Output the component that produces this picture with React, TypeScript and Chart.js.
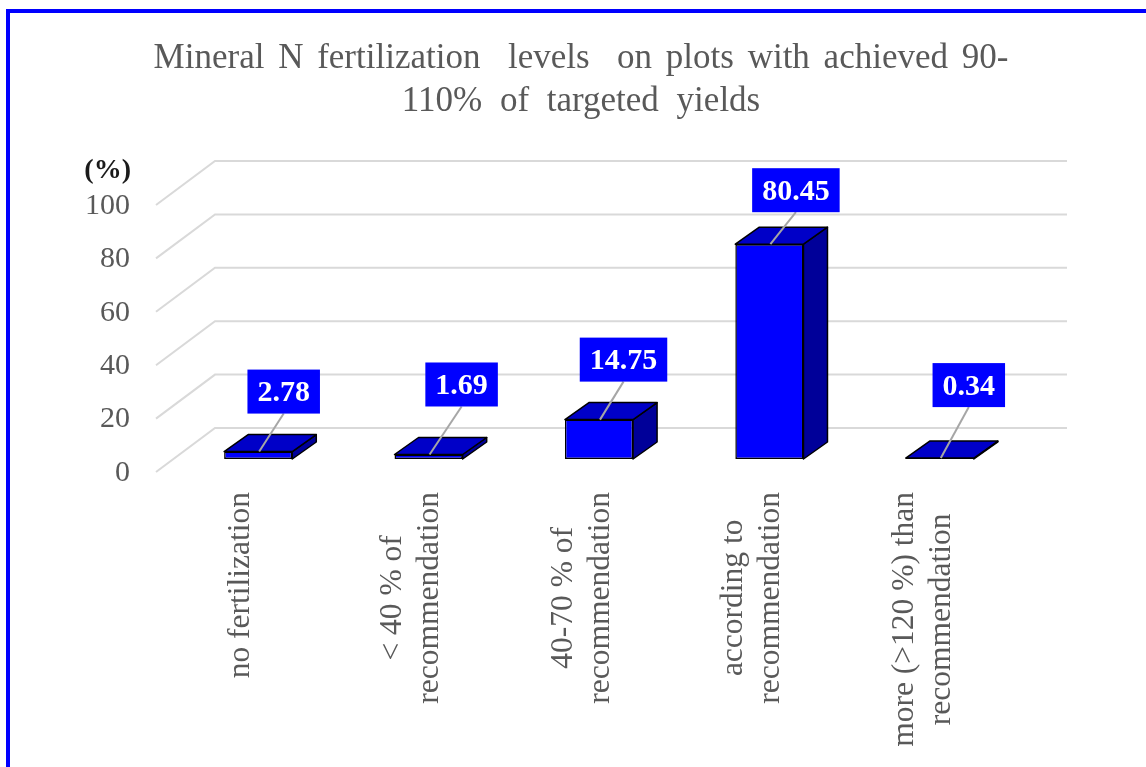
import React, { useEffect, useRef } from 'react';
import { Chart, registerables } from 'chart.js';

Chart.register(...registerables);

const TITLE_LINES = ['Mineral N fertilization  levels  on plots with achieved 90-', '110% of targeted yields'];
const CATEGORIES: string[][] = [
  ['no fertilization'],
  ['< 40 % of', 'recommendation'],
  ['40-70 % of', 'recommendation'],
  ['according to', 'recommendation'],
  ['more (>120 %) than', 'recommendation'],
];
const VALUES = [2.78, 1.69, 14.75, 80.45, 0.34];
const Y_TICKS = [0, 20, 40, 60, 80, 100];
const Y_UNIT = '(%)';

// layout / style constants (not data)
const BACK = { x: 42, y: -31 };
const FRONT = { x: -17, y: 13 };
const DEPTH = { x: 24, y: -17 };
const LABEL_SHIFT = [
  [25.5, -60],
  [33, -70],
  [24.5, -60],
  [26.5, -54],
  [29, -73],
];
const TITLE_WORD_SPACING = [5, 9];
const SERIF = '"Liberation Serif", "Times New Roman", serif';
const TEXT_GREY = '#595959';

const depth3d = {
  id: 'depth3d',
  beforeDraw(chart: any) {
    const { ctx } = chart;
    ctx.save();
    ctx.fillStyle = '#ffffff';
    ctx.fillRect(0, 0, chart.width, chart.height);
    ctx.fillStyle = '#0000FF';
    ctx.fillRect(6, 9, 4, chart.height - 9);
    ctx.fillRect(6, 9, chart.width - 6, 4);

    // title
    ctx.fillStyle = TEXT_GREY;
    ctx.font = `35px ${SERIF}`;
    ctx.textAlign = 'center';
    ctx.textBaseline = 'alphabetic';
    TITLE_LINES.forEach((line, i) => {
      (ctx as any).wordSpacing = `${TITLE_WORD_SPACING[i]}px`;
      ctx.fillText(line, 581, 68 + i * 43);
    });
    (ctx as any).wordSpacing = '0px';
    ctx.restore();
  },
  beforeDatasetsDraw(chart: any) {
    const { ctx } = chart;
    const xs = chart.scales.x;
    const ys = chart.scales.y;
    const L = xs.left;
    const R = xs.right;
    ctx.save();
    ctx.strokeStyle = '#D9D9D9';
    ctx.lineWidth = 2;
    Y_TICKS.forEach((v) => {
      const py = ys.getPixelForValue(v);
      ctx.beginPath();
      ctx.moveTo(L + FRONT.x, py + FRONT.y);
      ctx.lineTo(L + BACK.x, py + BACK.y);
      ctx.lineTo(R + BACK.x, py + BACK.y);
      ctx.stroke();
    });
    // tick labels
    ctx.fillStyle = TEXT_GREY;
    ctx.font = `30px ${SERIF}`;
    ctx.textAlign = 'right';
    ctx.textBaseline = 'middle';
    Y_TICKS.forEach((v) => {
      const py = ys.getPixelForValue(v);
      ctx.fillText(String(v), 130, py + FRONT.y + 1);
    });
    ctx.fillStyle = '#1a1a1a';
    ctx.font = `bold 28px ${SERIF}`;
    ctx.fillText(Y_UNIT, 131, 171);

    // category labels
    ctx.fillStyle = TEXT_GREY;
    ctx.font = `31.5px ${SERIF}`;
    ctx.textAlign = 'center';
    ctx.textBaseline = 'middle';
    const lineH = 37;
    const topY = ys.getPixelForValue(0) + FRONT.y + 20;
    CATEGORIES.forEach((lines, i) => {
      const cx = xs.getPixelForValue(i) + FRONT.x;
      const maxW = Math.max(...lines.map((l) => ctx.measureText(l).width));
      ctx.save();
      ctx.translate(cx, topY);
      ctx.rotate(-Math.PI / 2);
      lines.forEach((l, j) => {
        ctx.fillText(l, -maxW / 2, (j - (lines.length - 1) / 2) * lineH);
      });
      ctx.restore();
    });
    ctx.restore();
  },
  afterDatasetsDraw(chart: any) {
    const { ctx } = chart;
    const meta = chart.getDatasetMeta(0);
    ctx.save();
    ctx.lineJoin = 'round';
    ctx.lineWidth = 1.5;
    ctx.strokeStyle = '#000000';
    const poly = (pts: number[][], fill: string) => {
      ctx.beginPath();
      ctx.moveTo(pts[0][0], pts[0][1]);
      for (let k = 1; k < pts.length; k++) ctx.lineTo(pts[k][0], pts[k][1]);
      ctx.closePath();
      ctx.fillStyle = fill;
      ctx.fill();
      ctx.stroke();
    };
    meta.data.forEach((bar: any) => {
      const { x, y, base, width } = bar.getProps(['x', 'y', 'base', 'width'], true);
      const l = x - width / 2;
      const r = x + width / 2;
      poly([[r, y], [r + DEPTH.x, y + DEPTH.y], [r + DEPTH.x, base + DEPTH.y], [r, base]], '#000099');
      poly([[l, y], [r, y], [r + DEPTH.x, y + DEPTH.y], [l + DEPTH.x, y + DEPTH.y]], '#0000C8');
    });

    // data labels
    ctx.font = `bold 30px ${SERIF}`;
    ctx.textAlign = 'center';
    ctx.textBaseline = 'middle';
    meta.data.forEach((bar: any, i: number) => {
      const { x, y } = bar.getProps(['x', 'y'], true);
      const txt = VALUES[i].toFixed(2);
      const w = ctx.measureText(txt).width + 20;
      const h = 44;
      const bx = x + LABEL_SHIFT[i][0];
      const by = y + LABEL_SHIFT[i][1];
      ctx.strokeStyle = '#A6A6A6';
      ctx.lineWidth = 2;
      ctx.beginPath();
      ctx.moveTo(bx, by + h / 2);
      ctx.lineTo(x + 1, y);
      ctx.stroke();
      ctx.fillStyle = '#0000FF';
      ctx.fillRect(bx - w / 2, by - h / 2, w, h);
      ctx.fillStyle = '#ffffff';
      ctx.fillText(txt, bx, by + 2);
    });
    ctx.restore();
  },
};

export default function App() {
  const ref = useRef<HTMLCanvasElement | null>(null);
  useEffect(() => {
    if (!ref.current) return;
    const chart = new Chart(ref.current, {
      type: 'bar',
      data: {
        labels: CATEGORIES.map((c) => c.join(' ')),
        datasets: [
          {
            data: VALUES,
            backgroundColor: '#0000FF',
            borderColor: '#000000',
            borderWidth: 1.5,
            borderSkipped: false,
            barPercentage: 0.4,
            categoryPercentage: 1,
          },
        ],
      },
      options: {
        responsive: false,
        animation: false,
        events: [],
        layout: { padding: { left: 173, right: 121, top: 192, bottom: 308 } },
        plugins: {
          legend: { display: false },
          title: { display: false },
          tooltip: { enabled: false },
        },
        scales: {
          x: { type: 'category', display: false },
          y: { type: 'linear', min: 0, max: 100, display: false },
        },
      },
      plugins: [depth3d],
    });
    return () => chart.destroy();
  }, []);
  return (
    <div style={{ position: 'fixed', left: 0, top: 0, width: 1146, height: 767 }}>
      <canvas ref={ref} width={1146} height={767} style={{ display: 'block' }} />
    </div>
  );
}
